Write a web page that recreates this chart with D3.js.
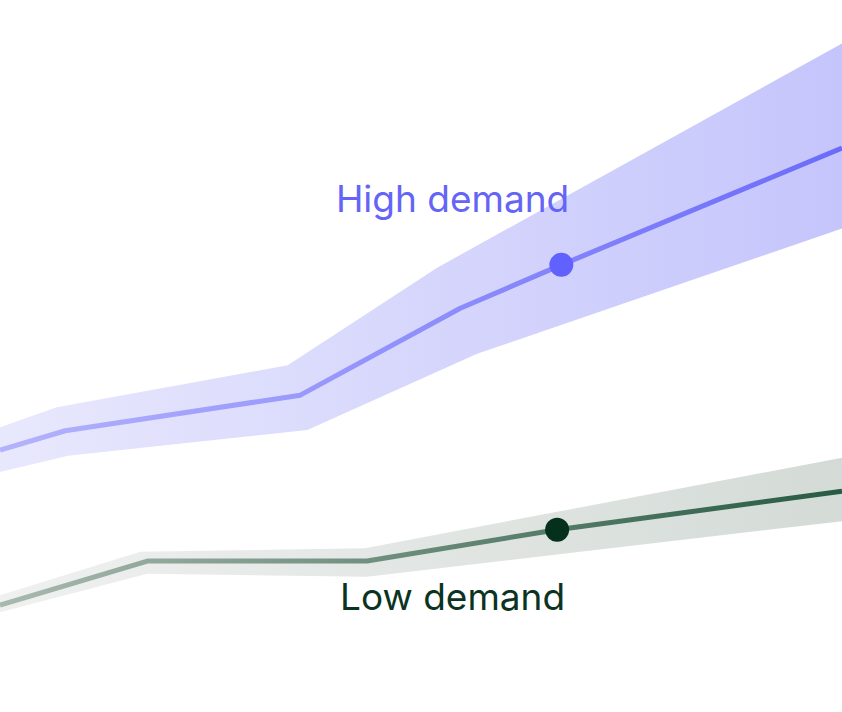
<!DOCTYPE html>
<html>
<head>
<meta charset="utf-8">
<script src="https://cdn.jsdelivr.net/npm/d3@7"></script>
<style>
  html, body { margin: 0; padding: 0; background: #fff; }
  svg { display: block; }
</style>
</head>
<body>
<div id="chart"></div>
<script>
// data: x in weeks (0-12), y in index units (0-100)
const highLine  = [[0, 36.8], [0.93, 39.5], [4.28, 44.5], [6.56, 56.7], [8.0, 62.8], [12, 79.2]];
const highUpper = [[0, 40.0], [0.81, 42.8], [4.1, 48.7], [6.23, 62.4], [12, 93.9]];
const highLower = [[0, 33.7], [0.97, 36.0], [4.38, 39.6], [6.8, 50.3], [12, 67.9]];
const highPoint = [8.0, 62.8];

const lowLine  = [[0, 15.0], [2.1, 21.2], [5.23, 21.2], [7.94, 25.6], [12, 31.0]];
const lowUpper = [[0, 16.4], [2.0, 22.5], [5.2, 23.0], [12, 35.7]];
const lowLower = [[0, 14.0], [2.1, 19.4], [5.23, 19.0], [12, 26.8]];
const lowPoint = [7.94, 25.6];

const labels = ['High demand', 'Low demand'];

const width = 842, height = 712;

const x = d3.scaleLinear().domain([0, 12]).range([0, width]);
const y = d3.scaleLinear().domain([0, 100]).range([height, 0]);

const svg = d3.select('#chart').append('svg')
  .attr('width', width)
  .attr('height', height);

const defs = svg.append('defs');
function grad(id, from, to) {
  const g = defs.append('linearGradient')
    .attr('id', id)
    .attr('gradientUnits', 'userSpaceOnUse')
    .attr('x1', 0).attr('x2', width).attr('y1', 0).attr('y2', 0);
  g.append('stop').attr('offset', '0%').attr('stop-color', from);
  g.append('stop').attr('offset', '100%').attr('stop-color', to);
}
grad('highBand', '#e8e8fd', '#c5c5fc');
grad('highStroke', '#b3b3fc', '#6b6bfb');
grad('lowBand', '#eff1f0', '#d4dbd7');
grad('lowStroke', '#a9b9af', '#285a43');

const line = d3.line().x(d => x(d[0])).y(d => y(d[1]));

// band polygon: upper edge left->right, lower edge right->left
function bandPath(upper, lower) {
  const pts = upper.concat(lower.slice().reverse());
  return line(pts) + 'Z';
}

function series(upper, lower, mid, pt, key, dotColor) {
  svg.append('path')
    .attr('d', bandPath(upper, lower))
    .attr('fill', `url(#${key}Band)`);
  svg.append('path')
    .attr('d', line(mid))
    .attr('fill', 'none')
    .attr('stroke', `url(#${key}Stroke)`)
    .attr('stroke-width', 5)
    .attr('stroke-linejoin', 'round');
  svg.append('circle')
    .attr('cx', x(pt[0]))
    .attr('cy', y(pt[1]))
    .attr('r', 12)
    .attr('fill', dotColor);
}

series(highUpper, highLower, highLine, highPoint, 'high', '#6161ff');
series(lowUpper, lowLower, lowLine, lowPoint, 'low', '#04301c');

svg.append('text')
  .attr('x', x(6.45))
  .attr('y', y(70.2))
  .attr('text-anchor', 'middle')
  .attr('font-family', 'Inter, sans-serif')
  .attr('font-size', 37)
  .attr('fill', '#6464f6')
  .text(labels[0]);

svg.append('text')
  .attr('x', x(6.45))
  .attr('y', y(14.3))
  .attr('text-anchor', 'middle')
  .attr('font-family', 'Inter, sans-serif')
  .attr('font-size', 37)
  .attr('fill', '#0b3322')
  .text(labels[1]);
</script>
</body>
</html>
